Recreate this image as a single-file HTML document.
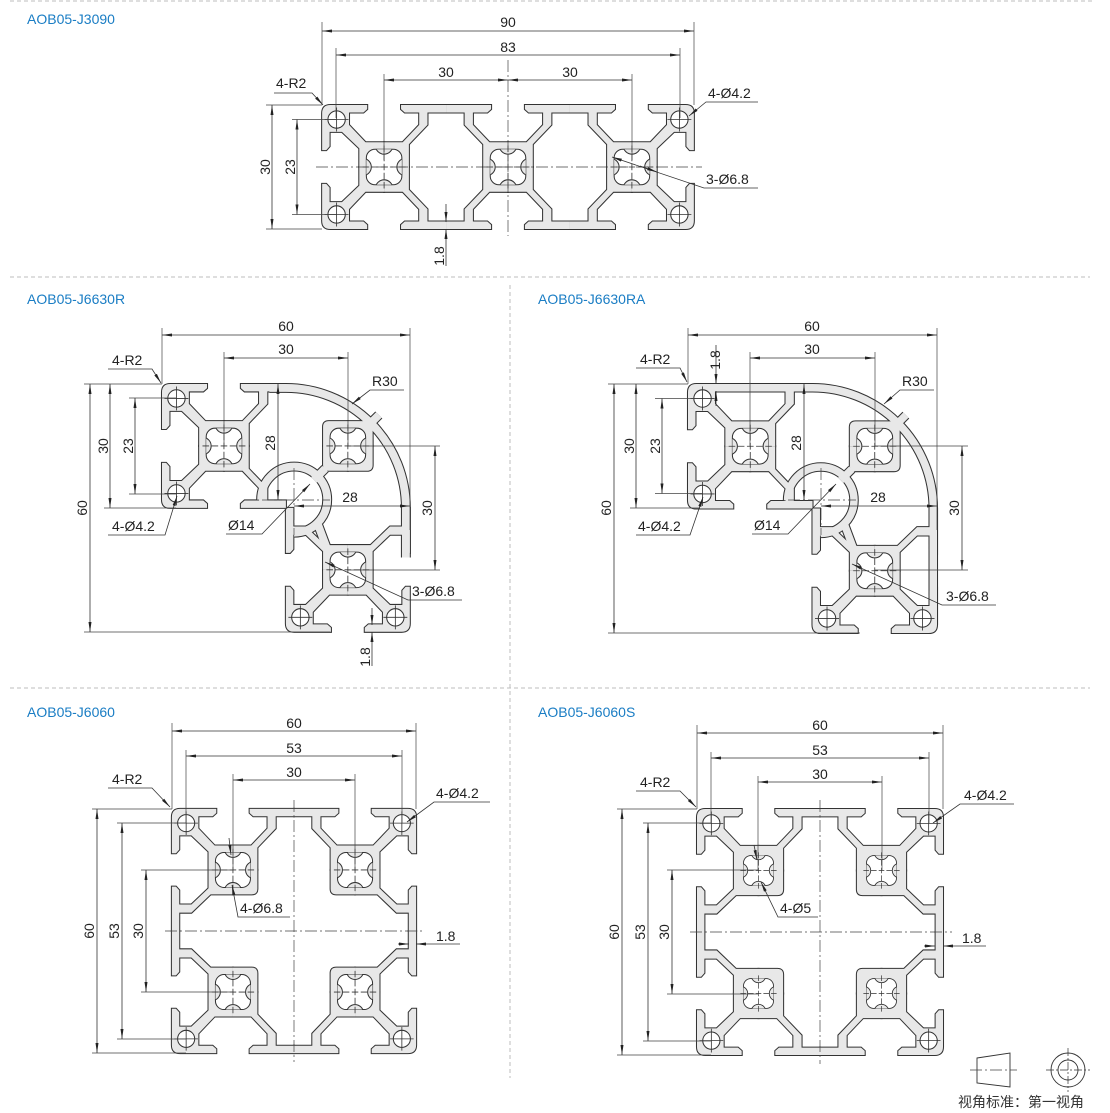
<!DOCTYPE html>
<html><head><meta charset="utf-8"><style>
html,body{margin:0;padding:0;background:#fff;}
svg{display:block;}
text{font-family:"Liberation Sans","Noto Sans CJK SC",sans-serif;font-size:14px;fill:#222;}
.t{fill:#1a7dc4;}
.d{stroke:#333;stroke-width:.8;fill:none;}
.e{stroke:#444;stroke-width:.7;fill:none;}
.c{stroke:#444;stroke-width:.7;fill:none;stroke-dasharray:12 3 2 3;}
.s{stroke:#bdbdbd;stroke-width:1;stroke-dasharray:4 3;fill:none;}
</style></head><body>
<svg width="1110" height="1113" viewBox="0 0 1110 1113" xmlns="http://www.w3.org/2000/svg">
<defs>
<marker id="a" viewBox="0 0 10 4" refX="10" refY="2" markerWidth="10" markerHeight="4" markerUnits="userSpaceOnUse" orient="auto-start-reverse"><path d="M0,0.5L10,2L0,3.5z" fill="#222"/></marker>
<path id="CT" d="M0,-6L-4.5,-6L-8.5,-10.2L-8.5,-13.2L-5,-13.2L-4.1,-14L-4.1,-15L-13,-15Q-15,-15 -15,-13L-15,-4.1L-14,-4.1L-13.2,-5L-13.2,-8.5L-10.2,-8.5L-6,-4.5L-6,0L0,0Z"/>
<path id="MT" d="M0,-6L-4.5,-6L-8.5,-10.2L-8.5,-13.2L-5,-13.2L-4.1,-14L-4.1,-15L-15,-15L-15,-13.2L-10.5,-13.2L-10.5,-10.2L-6,-5.5L-6,0L0,0Z"/>
<path id="ML" d="M-6,0L-6,-4.5L-10.2,-8.5L-13.2,-8.5L-13.2,-5L-14,-4.1L-15,-4.1L-15,-15L-13.2,-15L-13.2,-10.5L-10.2,-10.5L-5.5,-6L0,-6L0,0Z"/>
<path id="K" d="M0,-6L-4.6,-6Q-6,-6 -6,-4.6L-6,0L0,0Z"/>
<clipPath id="hc"><rect x="-4.3" y="-4.3" width="8.6" height="8.6"/></clipPath>
<g id="H">
 <rect x="-4.3" y="-4.3" width="8.6" height="8.6" rx="2.1" fill="#fff" stroke="#333" stroke-width=".25"/>
 <g clip-path="url(#hc)" fill="#e8e8e8" stroke="#333" stroke-width=".25">
  <circle cx="0" cy="-5.2" r="2.1"/><circle cx="0" cy="5.2" r="2.1"/><circle cx="-5.2" cy="0" r="2.1"/><circle cx="5.2" cy="0" r="2.1"/>
 </g>
 <path d="M-5.2,0H5.2M0,-5.2V5.2" stroke="#333" stroke-width=".2" stroke-dasharray="1.6 .6"/>
</g>
<g id="E"><circle r="2.1" fill="#fff" stroke="#333" stroke-width=".25"/><path d="M-2.9,0H2.9M0,-2.9V2.9" stroke="#333" stroke-width=".2"/></g>

<g id="P3090s">
 <g transform="translate(-30,0)"><use href="#CT"/><use href="#CT" transform="scale(1,-1)"/><use href="#MT" transform="scale(-1,1)"/><use href="#MT" transform="scale(-1,-1)"/></g>
 <g><use href="#MT"/><use href="#MT" transform="scale(-1,1)"/><use href="#MT" transform="scale(1,-1)"/><use href="#MT" transform="scale(-1,-1)"/></g>
 <g transform="translate(30,0)"><use href="#CT" transform="scale(-1,1)"/><use href="#CT" transform="scale(-1,-1)"/><use href="#MT"/><use href="#MT" transform="scale(1,-1)"/></g>
</g>
<g id="P6060s">
 <g transform="translate(-15,-15)"><use href="#CT"/><use href="#MT" transform="scale(-1,1)"/><use href="#ML" transform="scale(1,-1)"/><use href="#K" transform="scale(-1,-1)"/></g>
 <g transform="translate(15,-15)"><use href="#CT" transform="scale(-1,1)"/><use href="#MT"/><use href="#ML" transform="scale(-1,-1)"/><use href="#K" transform="scale(1,-1)"/></g>
 <g transform="translate(-15,15)"><use href="#CT" transform="scale(1,-1)"/><use href="#ML"/><use href="#MT" transform="scale(-1,-1)"/><use href="#K" transform="scale(-1,1)"/></g>
 <g transform="translate(15,15)"><use href="#CT" transform="scale(-1,-1)"/><use href="#ML" transform="scale(-1,1)"/><use href="#MT" transform="scale(1,-1)"/><use href="#K"/></g>
</g>
<g id="P66s">
 <g transform="translate(15,15)"><use href="#CT"/><use href="#CT" transform="scale(1,-1)"/><use href="#MT" transform="scale(-1,1)"/><use href="#MT" transform="scale(-1,-1)"/></g>
 <g transform="translate(45,15)"><use href="#K"/><use href="#K" transform="scale(-1,1)"/><use href="#K" transform="scale(1,-1)"/><use href="#K" transform="scale(-1,-1)"/></g>
 <g transform="translate(45,45)"><use href="#CT" transform="scale(1,-1)"/><use href="#CT" transform="scale(-1,-1)"/><use href="#ML"/><use href="#ML" transform="scale(-1,1)"/></g>
</g>
<path id="P66l" d="M26,0.95L30,0.95A29.05,29.05 0 0 1 59.05,30L59.05,42M24,28A8,8 0 1 1 32,36M39.5,20.5L36.8,23.2M37.6,33.6L40,40M50,10L52.5,7.5"/>
<path id="P66al" d="M4,0.9L30,0.9A29.1,29.1 0 0 1 59.1,30L59.1,58M24,28A8,8 0 1 1 32,36M39.5,20.5L36.8,23.2M37.6,33.6L40,40M50,10L52.5,7.5"/>
</defs>

<path class="s" d="M10,1H1095M10,277H1090M10,688H1090M510,285V1078"/>

<text class="t" x="27" y="24">AOB05-J3090</text>
<text class="t" x="27" y="304">AOB05-J6630R</text>
<text class="t" x="538" y="304">AOB05-J6630RA</text>
<text class="t" x="27" y="717">AOB05-J6060</text>
<text class="t" x="538" y="717">AOB05-J6060S</text>

<!-- ===== J3090 ===== -->
<g transform="translate(508,167) scale(4.13)">
 <use href="#P3090s" fill="#333" stroke="#333" stroke-width=".5"/>
 <use href="#P3090s" fill="#e8e8e8"/>
 <use href="#H" x="-30"/><use href="#H"/><use href="#H" x="30"/>
 <use href="#E" x="-41.5" y="-11.5"/><use href="#E" x="-41.5" y="11.5"/><use href="#E" x="41.5" y="-11.5"/><use href="#E" x="41.5" y="11.5"/>
</g>
<path class="e" d="M322,22V105M694,22V105M336,48V118M680,48V118M384,74V160M632,74V160M266,105H322M266,229H322M292,119.5H336M292,214.5H336"/>
<path class="c" d="M316,167H702M508,60V236"/>
<line class="d" x1="322" y1="31" x2="694" y2="31" marker-start="url(#a)" marker-end="url(#a)"/><text x="508" y="27" text-anchor="middle">90</text>
<line class="d" x1="336" y1="55" x2="680" y2="55" marker-start="url(#a)" marker-end="url(#a)"/><text x="508" y="52" text-anchor="middle">83</text>
<line class="d" x1="384" y1="80" x2="508" y2="80" marker-start="url(#a)" marker-end="url(#a)"/><text x="446" y="77" text-anchor="middle">30</text>
<line class="d" x1="508" y1="80" x2="632" y2="80" marker-start="url(#a)" marker-end="url(#a)"/><text x="570" y="77" text-anchor="middle">30</text>
<line class="d" x1="272" y1="105" x2="272" y2="229" marker-start="url(#a)" marker-end="url(#a)"/><text transform="translate(270,167) rotate(-90)" text-anchor="middle">30</text>
<line class="d" x1="297" y1="119.5" x2="297" y2="214.5" marker-start="url(#a)" marker-end="url(#a)"/><text transform="translate(295,167) rotate(-90)" text-anchor="middle">23</text>
<text x="276" y="88">4-R2</text><path class="d" d="M274,93H312L323,105" marker-end="url(#a)"/>
<text x="708" y="98">4-Ø4.2</text><path class="d" d="M758,102H706L689,116" marker-end="url(#a)"/>
<text x="706" y="184">3-Ø6.8</text><path class="d" d="M758,188H704L612,157" marker-end="url(#a)"/><path class="d" d="M640,166L657,172" marker-end="url(#a)"/>
<path class="d" d="M446,266V229" marker-end="url(#a)"/><path class="d" d="M446,204V222" marker-end="url(#a)"/>
<text transform="translate(444,256) rotate(-90)" text-anchor="middle">1.8</text>

<!-- ===== J6630R ===== -->
<g transform="translate(162,384) scale(4.13)">
 <use href="#P66s" fill="#333" stroke="#333" stroke-width=".5"/>
 <use href="#P66l" fill="none" stroke="#333" stroke-width="2.4"/>
 <use href="#P66s" fill="#e8e8e8"/>
 <use href="#P66l" fill="none" stroke="#e8e8e8" stroke-width="1.9"/>
 <use href="#H" x="15" y="15"/><use href="#H" x="45" y="15"/><use href="#H" x="45" y="45"/>
 <use href="#E" x="3.5" y="3.5"/><use href="#E" x="3.5" y="26.5"/><use href="#E" x="33.5" y="56.5"/><use href="#E" x="56.5" y="56.5"/>
</g>
<path class="e" d="M162,328V384M410,328V530M224,352V446M348,352V446M84,384H162M84,632H330M104,508H176M129,398H176M129,494H176M348,446H440M348,570H440"/>
<path class="c" d="M262,500H330M294,468V535"/>
<line class="d" x1="162" y1="335" x2="410" y2="335" marker-start="url(#a)" marker-end="url(#a)"/><text x="286" y="331" text-anchor="middle">60</text>
<line class="d" x1="224" y1="358" x2="348" y2="358" marker-start="url(#a)" marker-end="url(#a)"/><text x="286" y="354" text-anchor="middle">30</text>
<line class="d" x1="90" y1="384" x2="90" y2="632" marker-start="url(#a)" marker-end="url(#a)"/><text transform="translate(87,508) rotate(-90)" text-anchor="middle">60</text>
<line class="d" x1="110" y1="384" x2="110" y2="508" marker-start="url(#a)" marker-end="url(#a)"/><text transform="translate(108,446) rotate(-90)" text-anchor="middle">30</text>
<line class="d" x1="135" y1="398" x2="135" y2="494" marker-start="url(#a)" marker-end="url(#a)"/><text transform="translate(133,446) rotate(-90)" text-anchor="middle">23</text>
<line class="d" x1="278" y1="384" x2="278" y2="500" marker-start="url(#a)" marker-end="url(#a)"/><text transform="translate(275,443) rotate(-90)" text-anchor="middle">28</text>
<line class="d" x1="294" y1="506" x2="410" y2="506" marker-start="url(#a)" marker-end="url(#a)"/><text x="350" y="502" text-anchor="middle">28</text>
<line class="d" x1="435" y1="446" x2="435" y2="570" marker-start="url(#a)" marker-end="url(#a)"/><text transform="translate(432,508) rotate(-90)" text-anchor="middle">30</text>
<text x="112" y="365">4-R2</text><path class="d" d="M108,369H152L161,383" marker-end="url(#a)"/>
<text x="112" y="531">4-Ø4.2</text><path class="d" d="M108,535H165L177,496" marker-end="url(#a)"/>
<text x="228" y="530">Ø14</text><path class="d" d="M226,534H262L310,484" marker-end="url(#a)"/>
<text x="372" y="386">R30</text><path class="d" d="M404,390H370L352,404" marker-end="url(#a)"/>
<text x="412" y="596">3-Ø6.8</text><path class="d" d="M462,600H408L325,562" marker-end="url(#a)"/>
<path class="d" d="M372,666V632" marker-end="url(#a)"/><path class="d" d="M372,608V625" marker-end="url(#a)"/>
<text transform="translate(370,657) rotate(-90)" text-anchor="middle">1.8</text>

<!-- ===== J6630RA ===== -->
<g transform="translate(688,384) scale(4.15)">
 <use href="#P66s" fill="#333" stroke="#333" stroke-width=".5"/>
 <use href="#P66al" fill="none" stroke="#333" stroke-width="2.3"/>
 <use href="#P66s" fill="#e8e8e8"/>
 <use href="#P66al" fill="none" stroke="#e8e8e8" stroke-width="1.8"/>
 <use href="#H" x="15" y="15"/><use href="#H" x="45" y="15"/><use href="#H" x="45" y="45"/>
 <use href="#E" x="3.5" y="3.5"/><use href="#E" x="3.5" y="26.5"/><use href="#E" x="33.5" y="56.5"/><use href="#E" x="56.5" y="56.5"/>
</g>
<path class="e" d="M688,328V384M937,328V530M750,352V446M875,352V446M608,384H688M608,633H860M630,508H700M655,398.5H702M655,493.5H702M875,446H968M875,570H968"/>
<path class="c" d="M788,500H856M821,468V535"/>
<line class="d" x1="688" y1="335" x2="937" y2="335" marker-start="url(#a)" marker-end="url(#a)"/><text x="812" y="331" text-anchor="middle">60</text>
<line class="d" x1="750" y1="358" x2="875" y2="358" marker-start="url(#a)" marker-end="url(#a)"/><text x="812" y="354" text-anchor="middle">30</text>
<path class="d" d="M716,345V384" marker-end="url(#a)"/><path class="d" d="M716,406V391" marker-end="url(#a)"/>
<text transform="translate(720,360) rotate(-90)" text-anchor="middle">1.8</text>
<line class="d" x1="614" y1="384" x2="614" y2="633" marker-start="url(#a)" marker-end="url(#a)"/><text transform="translate(611,508) rotate(-90)" text-anchor="middle">60</text>
<line class="d" x1="636" y1="384" x2="636" y2="508" marker-start="url(#a)" marker-end="url(#a)"/><text transform="translate(634,446) rotate(-90)" text-anchor="middle">30</text>
<line class="d" x1="662" y1="398.5" x2="662" y2="493.5" marker-start="url(#a)" marker-end="url(#a)"/><text transform="translate(660,446) rotate(-90)" text-anchor="middle">23</text>
<line class="d" x1="804" y1="384" x2="804" y2="500" marker-start="url(#a)" marker-end="url(#a)"/><text transform="translate(801,443) rotate(-90)" text-anchor="middle">28</text>
<line class="d" x1="821" y1="506" x2="937" y2="506" marker-start="url(#a)" marker-end="url(#a)"/><text x="878" y="502" text-anchor="middle">28</text>
<line class="d" x1="962" y1="446" x2="962" y2="570" marker-start="url(#a)" marker-end="url(#a)"/><text transform="translate(959,508) rotate(-90)" text-anchor="middle">30</text>
<text x="640" y="364">4-R2</text><path class="d" d="M636,368H680L687,382" marker-end="url(#a)"/>
<text x="638" y="531">4-Ø4.2</text><path class="d" d="M636,535H690L703,497" marker-end="url(#a)"/>
<text x="754" y="530">Ø14</text><path class="d" d="M752,534H788L836,484" marker-end="url(#a)"/>
<text x="902" y="386">R30</text><path class="d" d="M934,390H900L884,404" marker-end="url(#a)"/>
<text x="946" y="601">3-Ø6.8</text><path class="d" d="M996,605H942L852,564" marker-end="url(#a)"/>

<!-- ===== J6060 ===== -->
<g transform="translate(294,931) scale(4.07)">
 <use href="#P6060s" fill="#333" stroke="#333" stroke-width=".5"/>
 <use href="#P6060s" fill="#e8e8e8"/>
 <use href="#H" x="-15" y="-15"/><use href="#H" x="15" y="-15"/><use href="#H" x="-15" y="15"/><use href="#H" x="15" y="15"/>
 <use href="#E" x="-26.5" y="-26.5"/><use href="#E" x="26.5" y="-26.5"/><use href="#E" x="-26.5" y="26.5"/><use href="#E" x="26.5" y="26.5"/>
</g>
<path class="e" d="M172,723V809M416,723V809M186,750V823M402,750V823M233,774V870M355,774V870M92,809H172M92,1053H186M117,823H186M117,1039H186M141,870H233M141,992H233"/>
<path class="c" d="M294,800V1062M165,931H425"/>
<line class="d" x1="172" y1="731" x2="416" y2="731" marker-start="url(#a)" marker-end="url(#a)"/><text x="294" y="728" text-anchor="middle">60</text>
<line class="d" x1="186" y1="756" x2="402" y2="756" marker-start="url(#a)" marker-end="url(#a)"/><text x="294" y="753" text-anchor="middle">53</text>
<line class="d" x1="233" y1="780" x2="355" y2="780" marker-start="url(#a)" marker-end="url(#a)"/><text x="294" y="777" text-anchor="middle">30</text>
<line class="d" x1="97" y1="809" x2="97" y2="1053" marker-start="url(#a)" marker-end="url(#a)"/><text transform="translate(94,931) rotate(-90)" text-anchor="middle">60</text>
<line class="d" x1="122" y1="823" x2="122" y2="1039" marker-start="url(#a)" marker-end="url(#a)"/><text transform="translate(119,931) rotate(-90)" text-anchor="middle">53</text>
<line class="d" x1="146" y1="870" x2="146" y2="992" marker-start="url(#a)" marker-end="url(#a)"/><text transform="translate(143,931) rotate(-90)" text-anchor="middle">30</text>
<text x="112" y="784">4-R2</text><path class="d" d="M108,788H152L170,807" marker-end="url(#a)"/>
<text x="436" y="798">4-Ø4.2</text><path class="d" d="M490,802H434L407,822" marker-end="url(#a)"/>
<text x="240" y="913">4-Ø6.8</text><path class="d" d="M290,917H238L232,885" marker-end="url(#a)"/><path class="d" d="M229,838L231,855" marker-end="url(#a)"/>
<text x="436" y="941">1.8</text><path class="d" d="M398,944H409" marker-end="url(#a)"/><path class="d" d="M460,944H416" marker-end="url(#a)"/>

<!-- ===== J6060S ===== -->
<g transform="translate(820,932) scale(4.1)">
 <use href="#P6060s" fill="#333" stroke="#333" stroke-width=".5"/>
 <use href="#P6060s" fill="#e8e8e8"/>
 <use href="#H" transform="translate(-15,-15) scale(.85)"/><use href="#H" transform="translate(15,-15) scale(.85)"/><use href="#H" transform="translate(-15,15) scale(.85)"/><use href="#H" transform="translate(15,15) scale(.85)"/>
 <use href="#E" x="-26.5" y="-26.5"/><use href="#E" x="26.5" y="-26.5"/><use href="#E" x="-26.5" y="26.5"/><use href="#E" x="26.5" y="26.5"/>
</g>
<path class="e" d="M697,725V809M943,725V809M711,752V823M929,752V823M758,776V870M882,776V870M617,809H697M617,1055H711M643,823H711M643,1041H711M667,870H758M667,994H758"/>
<path class="c" d="M820,800V1064M690,932H952"/>
<line class="d" x1="697" y1="733" x2="943" y2="733" marker-start="url(#a)" marker-end="url(#a)"/><text x="820" y="730" text-anchor="middle">60</text>
<line class="d" x1="711" y1="758" x2="929" y2="758" marker-start="url(#a)" marker-end="url(#a)"/><text x="820" y="755" text-anchor="middle">53</text>
<line class="d" x1="758" y1="782" x2="882" y2="782" marker-start="url(#a)" marker-end="url(#a)"/><text x="820" y="779" text-anchor="middle">30</text>
<line class="d" x1="622" y1="809" x2="622" y2="1055" marker-start="url(#a)" marker-end="url(#a)"/><text transform="translate(619,932) rotate(-90)" text-anchor="middle">60</text>
<line class="d" x1="648" y1="823" x2="648" y2="1041" marker-start="url(#a)" marker-end="url(#a)"/><text transform="translate(645,932) rotate(-90)" text-anchor="middle">53</text>
<line class="d" x1="672" y1="870" x2="672" y2="994" marker-start="url(#a)" marker-end="url(#a)"/><text transform="translate(669,932) rotate(-90)" text-anchor="middle">30</text>
<text x="640" y="787">4-R2</text><path class="d" d="M636,791H680L696,807" marker-end="url(#a)"/>
<text x="964" y="800">4-Ø4.2</text><path class="d" d="M1014,804H960L933,823" marker-end="url(#a)"/>
<text x="780" y="913">4-Ø5</text><path class="d" d="M818,917H778L761,882" marker-end="url(#a)"/><path class="d" d="M754,845L757,860" marker-end="url(#a)"/>
<text x="962" y="943">1.8</text><path class="d" d="M924,946H935" marker-end="url(#a)"/><path class="d" d="M986,946H943" marker-end="url(#a)"/>

<polygon points="977,1058 1010,1053 1010,1087 977,1083" fill="none" stroke="#333" stroke-width=".9"/>
<path class="c" d="M970,1070H1017" stroke-dasharray="8 2 2 2"/>
<circle cx="1068" cy="1070" r="17" fill="none" stroke="#333" stroke-width=".9"/>
<circle cx="1068" cy="1070" r="10" fill="none" stroke="#333" stroke-width=".9"/>
<path d="M1046,1070H1090M1068,1048V1092" stroke="#333" stroke-width=".7" stroke-dasharray="8 2 2 2"/>
<text x="958" y="1107" style="fill:#333">视角标准：第一视角</text>
</svg>
</body></html>
